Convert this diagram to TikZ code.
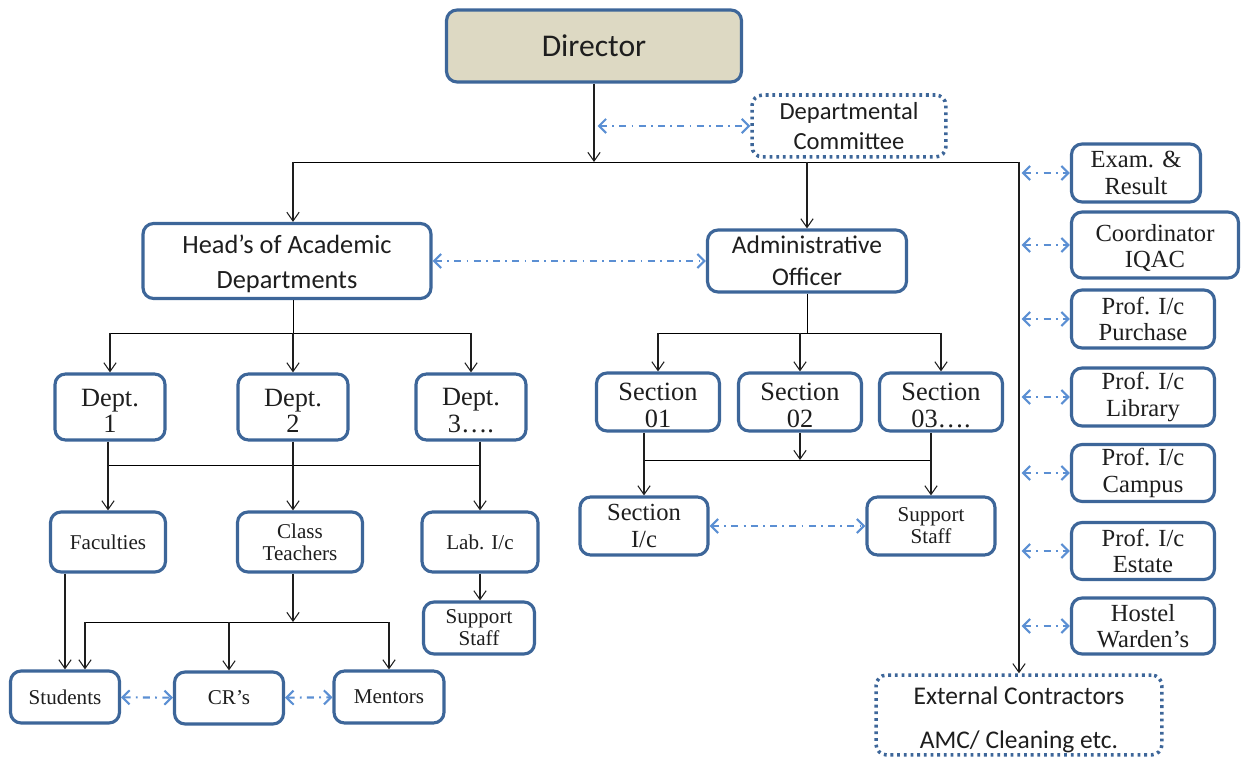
\documentclass[tikz,border=0pt]{standalone}
\usepackage{fontspec}
\setmainfont{Liberation Serif}
\newfontfamily\calibfont{Carlito}
\usetikzlibrary{arrows.meta,positioning}
\definecolor{orgblue}{HTML}{3D6699}
\definecolor{orgtan}{HTML}{DDD9C3}
\definecolor{orglink}{HTML}{5B8FD3}
\definecolor{orgink}{HTML}{1E1E1E}

\begin{document}
\begin{tikzpicture}[x=0.02cm,y=-0.02cm,
 box/.style={draw=orgblue,line width=1.8pt,rounded corners=6pt,fill=white,
   align=center,inner sep=1pt,text=orgink,font=\fontsize{14}{15}\selectfont},
 minor/.style={box,font=\fontsize{12}{12.5}\selectfont},
 chief/.style={box,fill=orgtan,font=\calibfont\fontsize{18}{20}\selectfont},
 sbox/.style={box,font=\calibfont\fontsize{14.5}{18}\selectfont},
 dotbox/.style={sbox,line width=2pt,dash pattern=on 1.6pt off 2.2pt},
 arr/.style={-{Straight Barb[length=5pt,width=7pt]},line width=0.6pt,draw=orgink},
 duo/.style={{Straight Barb[length=4pt,width=8pt]}-{Straight Barb[length=4pt,width=8pt]},
   line width=1.2pt,draw=orglink,dash pattern=on 4pt off 3pt on 1pt off 3pt}]
\useasboundingbox (0,0) rectangle (1242,760);
% top
\node[chief,minimum width=5.9cm,minimum height=1.44cm] (dir) at (594,46) {Director};
\node[dotbox,minimum width=3.88cm,minimum height=1.24cm,font=\calibfont\fontsize{14}{17}\selectfont] (comm) at (849,126) {Departmental\\Committee};
\node[sbox,minimum width=5.76cm,minimum height=1.5cm,font=\calibfont\fontsize{15}{20}\selectfont] (hod) at (287,261) {\rule{0pt}{14pt}Head’s of Academic\\Departments};
\node[sbox,minimum width=3.98cm,minimum height=1.24cm] (ao) at (807,261) {Administrative\\Officer};
% academic side
\node[box,minimum width=2.2cm,minimum height=1.32cm,font=\fontsize{15}{15}\selectfont] (d1) at (110,407) {\rule{0pt}{14pt}Dept.\\1};
\node[box,minimum width=2.2cm,minimum height=1.32cm,font=\fontsize{15}{15}\selectfont] (d2) at (293,407) {\rule{0pt}{14pt}Dept.\\2};
\node[box,minimum width=2.2cm,minimum height=1.32cm,font=\fontsize{15}{15}\selectfont] (d3) at (471,407) {\rule{0pt}{14pt}Dept.\\3….};
\node[minor,minimum width=2.3cm,minimum height=1.2cm] (fac) at (108,542) {Faculties};
\node[minor,minimum width=2.5cm,minimum height=1.2cm] (ct) at (300,542) {Class\\Teachers};
\node[minor,minimum width=2.32cm,minimum height=1.2cm] (lab) at (480,542) {Lab. I/c};
\node[minor,minimum width=2.22cm,minimum height=1.04cm] (lss) at (479,628) {Support\\Staff};
\node[minor,minimum width=2.18cm,minimum height=1.04cm] (stu) at (65,697) {Students};
\node[minor,minimum width=2.18cm,minimum height=1.04cm] (cr) at (229,698) {CR’s};
\node[minor,minimum width=2.2cm,minimum height=1.04cm] (men) at (389,697) {Mentors};
% admin side
\node[box,minimum width=2.46cm,minimum height=1.16cm,font=\fontsize{15}{15.5}\selectfont] (s1) at (658,402) {\rule{0pt}{14pt}Section\\01};
\node[box,minimum width=2.46cm,minimum height=1.16cm,font=\fontsize{15}{15.5}\selectfont] (s2) at (800,402) {\rule{0pt}{14pt}Section\\02};
\node[box,minimum width=2.46cm,minimum height=1.16cm,font=\fontsize{15}{15.5}\selectfont] (s3) at (941,402) {\rule{0pt}{14pt}Section\\03….};
\node[box,minimum width=2.56cm,minimum height=1.16cm] (sic) at (644,526) {Section\\I/c};
\node[minor,minimum width=2.56cm,minimum height=1.16cm] (ass) at (931,526) {Support\\Staff};
% right column
\node[box,minimum width=2.58cm,minimum height=1.16cm] (exam) at (1136,173) {Exam. \&\\Result};
\node[box,minimum width=3.34cm,minimum height=1.32cm] (iqac) at (1155,245) {\rule{0pt}{13pt}Coordinator\\IQAC};
\node[box,minimum width=2.86cm,minimum height=1.16cm] (pur) at (1143,319) {Prof. I/c\\Purchase};
\node[box,minimum width=2.86cm,minimum height=1.16cm] (lib) at (1143,397) {Prof. I/c\\Library};
\node[box,minimum width=2.86cm,minimum height=1.14cm] (cam) at (1143,473) {Prof. I/c\\Campus};
\node[box,minimum width=2.86cm,minimum height=1.14cm] (est) at (1143,551) {Prof. I/c\\Estate};
\node[box,minimum width=2.86cm,minimum height=1.12cm] (hos) at (1143,626) {Hostel\\Warden’s};
\node[dotbox,minimum width=5.72cm,minimum height=1.48cm] (ext) at (1019,715) {\rule{0pt}{16pt}External Contractors\\[7pt]AMC/ Cleaning etc.};

% director level
\coordinate (bus) at (594,162);
\coordinate (dbus) at (293,333);
\draw (dbus |- bus) -- (bus -| ext.north);
\draw[arr] (dir) -- (bus); \draw[duo] ([xshift=2pt]dir.south |- comm) -- (comm);
\draw[arr] (dbus |- bus) -- (dbus |- hod.north); \draw[arr] (ao.north |- bus) -- (ao);
\draw[arr] (bus -| ext.north) -- (ext); \draw[duo] (hod) -- (ao);
\foreach \n in {exam,iqac,pur,lib,cam,est,hos}
  \draw[duo] ([xshift=1.5pt]\n.west -| ext.north) -- (\n);

% departments
\coordinate (fbus) at (293,465);
\draw (hod.south -| dbus) -- (dbus);
\draw (d1.north |- dbus) -- (d3.north |- dbus);
\foreach \n in {d1,d2,d3} \draw[arr] (\n.north |- dbus) -- (\n);
\draw (fac.north |- fbus) -- (lab.north |- fbus);
\draw[arr] (fac.north |- d1.south) -- (fac); \draw[arr] (d2.south) -- (d2.south |- ct.north);
\draw[arr] (lab.north |- d3.south) -- (lab); \draw[arr] (lab.south) -- (lab.south |- lss.north);

% students level
\coordinate (cbus) at (293,622);
\coordinate (sx) at ([xshift=4mm]stu.north);
\draw[arr] (ct.south -| cbus) -- (cbus);
\draw (sx |- cbus) -- (men.north |- cbus);
\draw[arr] (sx |- cbus) -- (sx); \draw[arr] (cr.north |- cbus) -- (cr);
\draw[arr] (men.north |- cbus) -- (men); \draw[arr] (stu.north |- fac.south) -- (stu);
\draw[duo] (stu) -- (cr); \draw[duo] (cr) -- (men);

% sections
\coordinate (abus) at (807,333);
\coordinate (sbus) at (800,460);
\draw (ao) -- (abus);
\draw (s1.north |- abus) -- (s3.north |- abus);
\foreach \n in {s1,s2,s3} \draw[arr] (\n.north |- abus) -- (\n);
\draw (sic.north |- sbus) -- (ass.north |- sbus);
\draw[arr] (s2) -- (s2.south |- sbus);
\draw[arr] (sic.north |- s1.south) -- (sic); \draw[arr] (ass.north |- s3.south) -- (ass);
\draw[duo] (sic) -- (ass);
\end{tikzpicture}
\end{document}
